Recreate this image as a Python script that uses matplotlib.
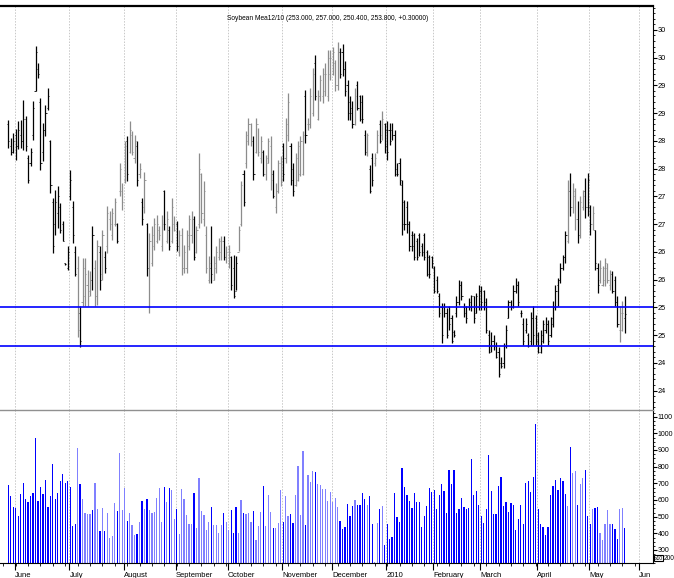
import numpy as np
import matplotlib
matplotlib.use("Agg")
import matplotlib.pyplot as plt
from matplotlib.ticker import MultipleLocator

# daily OHLC, late May 2009 .. May 2010 (one value per trading day)
highs = [288.8, 285.5, 286.4, 287.2, 288.5, 288.8, 292.3, 289.5, 282.5, 283.7,
         292.1, 302.1, 299.0, 292.7, 288.2, 291.5, 294.5, 285.2, 274.7, 276.2,
         276.8, 273.8, 270.5, 263.0, 266.0, 279.8, 274.1, 266.1, 264.2, 255.2,
         263.9, 263.9, 261.8, 261.5, 269.6, 263.6, 267.2, 266.0, 269.0, 265.1,
         273.2, 272.3, 272.9, 274.7, 270.2, 281.0, 277.4, 284.9, 285.8, 288.5,
         286.7, 286.1, 284.9, 281.0, 274.7, 279.3, 270.2, 268.4, 269.6, 271.1,
         271.7, 269.6, 271.7, 276.2, 272.3, 269.6, 274.7, 271.4, 270.5, 269.0,
         269.3, 266.3, 269.0, 271.7, 272.3, 271.4, 269.6, 282.8, 279.2, 277.7,
         269.6, 264.2, 269.6, 264.2, 266.0, 267.5, 267.8, 267.8, 266.0, 266.3,
         264.2, 264.5, 264.2, 269.6, 277.7, 279.8, 286.7, 289.1, 288.2, 285.8,
         289.1, 287.3, 285.8, 283.4, 282.5, 285.5, 285.8, 279.8, 277.4, 281.6,
         282.2, 284.6, 289.1, 293.6, 284.6, 281.0, 282.8, 284.9, 285.8, 286.7,
         294.2, 289.1, 294.5, 298.1, 300.5, 294.2, 296.9, 298.1, 299.0, 301.4,
         301.4, 302.0, 299.6, 302.9, 301.7, 302.5, 299.3, 296.0, 293.0, 292.1,
         294.5, 295.7, 293.3, 293.3, 287.0, 286.4, 280.7, 282.8, 282.8, 287.0,
         288.8, 290.3, 288.2, 288.5, 288.2, 288.2, 287.0, 281.0, 281.9, 278.0,
         274.4, 274.1, 270.5, 268.7, 268.4, 267.5, 268.4, 266.6, 268.4, 265.4,
         264.5, 264.2, 262.4, 260.6, 257.6, 255.8, 255.8, 254.9, 255.2, 253.6,
         250.9, 257.0, 260.0, 259.7, 255.8, 255.2, 256.7, 257.3, 257.0, 257.6,
         259.1, 258.8, 258.2, 256.7, 250.9, 250.6, 250.0, 248.8, 247.9, 246.1,
         248.5, 251.8, 256.4, 256.4, 259.1, 260.3, 259.7, 254.6, 253.0, 253.0,
         250.3, 254.2, 255.2, 253.6, 250.6, 250.9, 252.7, 253.3, 252.7, 253.3,
         256.1, 259.1, 260.3, 263.0, 264.5, 268.7, 278.0, 279.2, 277.4, 276.5,
         274.1, 275.0, 276.2, 278.3, 279.2, 273.5, 273.2, 269.0, 263.0, 263.6,
         262.4, 263.9, 263.0, 261.8, 261.5, 260.6, 257.0, 255.2, 256.1, 257.0]
lows = [283.7, 282.5, 282.8, 281.6, 283.5, 283.7, 283.4, 283.1, 277.4, 280.4,
        285.1, 293.9, 296.3, 279.8, 281.3, 285.9, 290.6, 275.6, 264.8, 268.1,
        269.3, 268.4, 266.9, 262.7, 261.8, 274.4, 266.6, 260.6, 249.7, 247.9,
        255.2, 255.2, 255.2, 257.0, 258.2, 255.2, 255.5, 258.2, 260.0, 261.2,
        264.8, 269.0, 267.2, 269.6, 266.6, 275.0, 272.6, 277.4, 277.7, 282.8,
        282.5, 281.0, 276.8, 278.3, 269.9, 272.0, 260.6, 253.9, 262.4, 265.4,
        266.6, 267.2, 265.1, 269.0, 266.6, 265.4, 266.6, 268.7, 265.1, 264.2,
        260.9, 261.2, 261.2, 265.4, 266.6, 263.6, 264.8, 269.3, 270.2, 269.6,
        261.2, 259.4, 259.4, 260.0, 261.2, 263.6, 263.6, 263.6, 263.0, 262.1,
        258.2, 256.7, 258.2, 265.1, 269.6, 273.2, 280.1, 284.3, 284.0, 278.0,
        282.8, 282.2, 281.0, 278.6, 278.0, 281.0, 276.2, 274.7, 272.0, 275.6,
        276.8, 277.7, 281.0, 284.9, 277.1, 275.0, 276.8, 277.7, 278.6, 278.9,
        284.6, 287.0, 287.3, 289.4, 292.4, 288.8, 292.1, 291.8, 293.0, 292.1,
        296.0, 296.9, 293.9, 294.2, 296.3, 296.6, 293.0, 288.8, 288.8, 287.3,
        287.9, 290.6, 288.5, 288.2, 282.5, 282.2, 275.6, 276.8, 280.4, 282.8,
        284.6, 285.2, 282.8, 281.6, 284.3, 285.2, 278.6, 278.6, 277.1, 268.1,
        269.0, 268.4, 265.1, 265.1, 263.6, 263.6, 264.2, 264.2, 263.6, 260.6,
        260.3, 262.1, 257.6, 257.6, 253.3, 248.5, 253.3, 249.4, 250.9, 248.5,
        249.7, 253.3, 255.5, 256.4, 253.3, 252.1, 254.6, 254.3, 252.1, 253.9,
        254.6, 254.6, 254.6, 250.3, 246.7, 247.0, 247.3, 245.8, 242.5, 244.0,
        244.0, 247.6, 253.0, 254.6, 254.9, 257.6, 255.2, 253.3, 248.2, 250.3,
        247.9, 248.2, 248.2, 248.2, 246.7, 246.7, 248.5, 250.3, 248.2, 249.7,
        251.5, 254.6, 255.2, 259.4, 261.8, 263.0, 266.6, 271.4, 272.0, 269.0,
        266.6, 267.5, 272.6, 271.1, 271.4, 268.1, 269.0, 261.8, 257.6, 259.4,
        258.8, 258.8, 259.4, 258.2, 257.6, 255.2, 251.5, 248.8, 250.7, 250.4]
opens = [288, 284, 283, 286, 284, 286, 285, 289, 282, 281,
         286, 294, 298, 292, 283, 287, 291, 285, 274, 270,
         272, 273, 270, 263, 262, 275, 273, 265, 262, 254,
         256, 257, 259, 258, 260, 262, 257, 265, 261, 264,
         266, 271, 268, 270, 270, 276, 276, 278, 285, 283,
         286, 282, 284, 279, 274, 273, 270, 255, 263, 266,
         267, 269, 266, 276, 267, 269, 267, 270, 270, 265,
         268, 262, 262, 266, 268, 271, 265, 270, 279, 271,
         268, 260, 262, 260, 262, 264, 265, 267, 264, 263,
         264, 262, 258, 265, 270, 279, 281, 285, 288, 285,
         283, 288, 282, 283, 279, 281, 284, 279, 273, 276,
         281, 284, 282, 286, 284, 280, 277, 278, 279, 279,
         293, 288, 288, 290, 299, 289, 293, 293, 294, 293,
         297, 297, 299, 295, 301, 301, 298, 295, 292, 291,
         288, 295, 293, 292, 286, 283, 280, 282, 281, 283,
         288, 286, 288, 287, 287, 287, 286, 280, 281, 277,
         274, 273, 270, 268, 268, 267, 268, 266, 268, 265,
         264, 264, 262, 260, 257, 255, 255, 254, 255, 253,
         250.5, 254, 256, 259, 255, 255, 255, 255, 257, 254,
         255, 258, 258, 256, 250, 248, 249, 248, 247, 245,
         245, 248, 253, 256, 255, 258, 259, 254, 252, 251,
         250, 249, 253, 253, 250, 247, 249, 251, 252, 250,
         252, 255, 259, 260, 262, 264, 267, 276, 273, 275,
         271, 268, 273, 276, 273, 273, 270, 269, 262, 260,
         259, 260, 262, 259, 261, 260, 256, 251, 251, 253.0]
closes = [285, 283, 285, 284, 287, 285, 289, 284, 278, 283,
          291, 301, 297, 281, 287, 290, 293, 277, 266, 274,
          275, 269, 267, 262.8, 265, 278, 268, 261, 251, 249,
          262, 261, 257, 260, 268, 257, 266, 260, 268, 262,
          272, 270, 272, 274, 267, 280, 274, 284, 279, 287,
          283, 285, 278, 280, 271, 278, 262, 267, 268, 270,
          270, 268, 270, 270, 271, 266, 273, 269, 266, 268,
          262, 265, 268, 271, 271, 264, 269, 280, 272, 276,
          262, 263, 261, 263, 265, 267, 267, 264, 265, 265,
          259, 257, 263, 269, 277, 274, 286, 288, 285, 279,
          288, 283, 285, 279, 282, 285, 278, 275, 276, 281,
          278, 279, 288, 292, 278, 276, 282, 284, 285, 286,
          286, 288, 293, 297, 293, 293, 296, 297, 297, 300,
          300, 301, 295, 301, 297, 298, 294, 290, 290, 288,
          293, 291, 289, 289, 283, 286, 276, 278, 282, 286,
          285, 289, 284, 283, 285, 286, 279, 279, 278, 270,
          270, 270, 266, 266, 264, 264, 265, 265, 264, 261,
          261, 263, 258, 258, 254, 250, 254, 250, 252, 249,
          250, 256, 259, 257, 254, 253, 256, 257, 253, 257,
          258, 256, 255, 251, 247, 249, 248, 246, 243, 244.5,
          248, 251, 256, 255, 258, 259, 256, 254, 249, 252,
          248, 253, 250, 249, 247, 250, 252, 252, 249, 253,
          255, 258, 260, 262, 264, 268, 276, 273, 276, 271,
          268, 274, 275, 273, 278, 270, 272, 263, 259, 262,
          262, 263, 260, 261, 258, 256, 252, 254, 254, 253.8]
# b = black bar / dark blue volume, g = grey bar / light blue volume
bar_trend = ("bbbbbbbbbb" "bbbbbbbbbb" "bbbbbbbbgb" "ggggbggbgb" "ggggbgggbg"
             "ggbgbgbggg" "gggbgbggbg" "gggggbgggg" "ggbggggbgg" "bbbggbgggb"
             "gggbgggbgg" "gbggbbgggg" "bgggbggggg" "ggggbbbbbb" "gbbbbgbbgg"
             "bgbbbbbbbb" "bbbbbbbbbb" "bbbbbbbbbb" "bbbbbbbbbb" "bbbbbbbbbb"
             "bbbbbbbbbb" "bbbbbbbbbb" "bbbbbbgbgg" "bggbbbgbbg" "ggggbbbggb")
# volume (x10)
volume = [690, 625, 560, 550, 505, 635, 700, 605, 590, 626,
          642, 975, 596, 681, 638, 723, 560, 624, 816, 608,
          642, 713, 757, 703, 717, 677, 445, 459, 915, 699,
          606, 524, 516, 516, 540, 703, 546, 415, 552, 417,
          524, 371, 385, 582, 534, 882, 540, 675, 477, 524,
          451, 389, 395, 469, 596, 546, 604, 538, 524, 528,
          614, 675, 469, 681, 590, 675, 661, 487, 548, 395,
          667, 604, 512, 455, 459, 642, 435, 733, 534, 512,
          421, 467, 558, 451, 451, 403, 451, 520, 469, 421,
          540, 403, 558, 403, 600, 520, 516, 524, 467, 534,
          359, 445, 528, 685, 445, 628, 528, 431, 431, 463,
          661, 469, 624, 506, 516, 463, 628, 802, 512, 892,
          449, 751, 707, 774, 769, 699, 691, 667, 667, 596,
          647, 590, 614, 558, 473, 427, 441, 576, 502, 564,
          600, 572, 572, 642, 608, 572, 624, 455, 227, 463,
          548, 564, 332, 455, 369, 379, 642, 497, 469, 794,
          681, 632, 594, 554, 642, 586, 586, 437, 502, 566,
          671, 651, 663, 544, 632, 699, 657, 522, 778, 699,
          778, 522, 544, 614, 558, 544, 554, 846, 632, 657,
          568, 502, 463, 548, 868, 657, 516, 516, 685, 741,
          562, 590, 530, 582, 568, 419, 487, 568, 459, 703,
          717, 647, 741, 1054, 544, 455, 437, 393, 437, 632,
          685, 723, 663, 735, 713, 638, 562, 921, 765, 776,
          572, 699, 735, 780, 502, 459, 548, 554, 558, 403,
          361, 455, 540, 455, 455, 427, 367, 544, 554, 431]

support = [255.0, 248.0]
title = "Soybean Mea12/10 (253.000, 257.000, 250.400, 253.800, +0.30000)"
month_days = [22, 22, 21, 21, 22, 20, 22, 19, 19, 23, 21, 20]  # trading days per month
month_labels = ["June", "July", "August", "September", "October", "November",
                "December", "2010", "February", "March", "April", "May", "Jun"]
first_month_bar = 3
price_ticks = [240, 245, 250, 255, 260, 265, 270, 275, 280, 285, 290, 295, 300, 305]
price_tick_labels = ["24", "24", "25", "25", "26", "26", "27", "27", "28", "28",
                     "29", "29", "30", "30"]  # clipped at the right edge as in the original
vol_ticks = [300, 400, 500, 600, 700, 800, 900, 1000, 1100]

narrow = ["Liberation Sans Narrow", "Liberation Sans", "DejaVu Sans"]
plt.rcParams["font.family"] = narrow
W, H = 674, 578

n = len(highs)
x = np.arange(n)
month_idx = first_month_bar + np.concatenate([[0], np.cumsum(month_days)])
dark = np.array([c == "b" for c in bar_trend])

fig = plt.figure(figsize=(W / 100, H / 100), dpi=100)
ax1 = fig.add_axes([0, 1 - 410 / H, 653 / W, 404 / H])
ax2 = fig.add_axes([0, 1 - 563 / H, 653 / W, 153 / H], sharex=ax1)

xlim = (-8.3 / 2.476, (653 - 8.3) / 2.476)

for ax in (ax1, ax2):
    for m in month_idx:
        ax.axvline(m - 0.3, color="#c8c8c8", lw=0.7, ls=(0, (1.5, 1.5)), zorder=0)

# --- price panel
for flag, col in ((True, "black"), (False, "#8c8c8c")):
    sel = dark == flag
    ax1.vlines(x[sel], np.array(lows)[sel], np.array(highs)[sel], color=col, lw=0.9)
    ax1.hlines(np.array(opens)[sel], x[sel] - 0.45, x[sel], color=col, lw=0.6)
    ax1.hlines(np.array(closes)[sel], x[sel], x[sel] + 0.45, color=col, lw=0.6)

for lvl in support:
    ax1.axhline(lvl, color="#0000ff", lw=1.2)

ax1.set_xlim(*xlim)
ax1.set_ylim(236.5, 309.3)
ax1.yaxis.tick_right()
ax1.set_yticks(price_ticks)
ax1.set_yticklabels(price_tick_labels)
ax1.yaxis.set_minor_locator(MultipleLocator(1))
ax1.tick_params(axis="y", which="major", length=3, width=0.8, pad=0.5, labelsize=5.3)
ax1.tick_params(axis="y", which="minor", length=1.6, width=0.6)
ax1.tick_params(axis="x", which="both", bottom=False, labelbottom=False)
ax1.spines["left"].set_visible(False)
ax1.spines["bottom"].set_visible(False)
ax1.spines["top"].set_linewidth(1.6)
ax1.spines["right"].set_linewidth(0.8)

fig.text(328 / W, 1 - 19 / H, title, ha="center", va="center", fontsize=4.8)

# --- volume panel
vcol = np.where(dark, "#0000ff", "#8080ff")
ax2.bar(x, volume, width=0.5, color=vcol, linewidth=0)
ax2.set_ylim(222, 1140)
ax2.yaxis.tick_right()
ax2.set_yticks(vol_ticks)
ax2.yaxis.set_minor_locator(MultipleLocator(25))
ax2.tick_params(axis="y", which="major", length=3, width=0.8, pad=0.5, labelsize=5.0)
ax2.tick_params(axis="y", which="minor", length=1.6, width=0.6)
ax2.spines["left"].set_visible(False)
ax2.spines["top"].set_color("#909090")
ax2.spines["top"].set_linewidth(1.0)
ax2.spines["right"].set_linewidth(0.8)
ax2.spines["bottom"].set_linewidth(0.8)

ax2.set_xticks(month_idx - 0.3)
ax2.set_xticklabels(month_labels)
ax2.set_xticks(np.arange(-2, 256, 5), minor=True)
ax2.tick_params(axis="x", which="major", length=5, width=0.8, pad=1.5, labelsize=5.5)
ax2.tick_params(axis="x", which="minor", length=2.5, width=0.6)
for lab in ax2.get_xticklabels():
    lab.set_horizontalalignment("left")

fig.text(654.5 / W, 1 - 558 / H, "x10", fontsize=3.6, va="center", ha="left",
         bbox=dict(boxstyle="square,pad=0.15", fc="white", ec="black", lw=0.8))
fig.text(663.5 / W, 1 - 558.5 / H, "200", fontsize=4.8, va="center", ha="left")

fig.savefig("out.png", dpi=100)
